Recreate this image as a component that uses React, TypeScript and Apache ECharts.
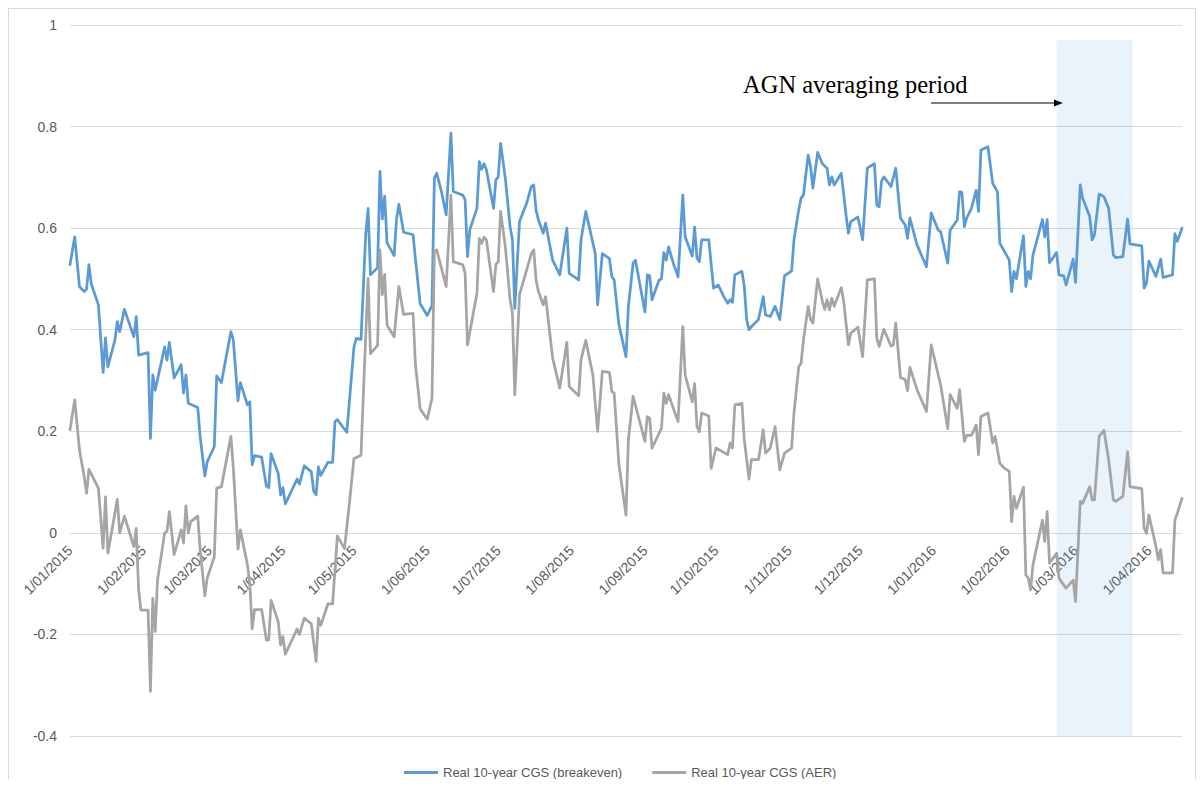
import { useEffect, useRef } from 'react';
import * as echarts from 'echarts';

// Category axis: every calendar day from 1 Jan 2015 to 15 Apr 2016
const axisStart = Date.UTC(2015, 0, 1);
const axisEnd = Date.UTC(2016, 3, 15);
const categories: string[] = [];
for (let t = axisStart; t <= axisEnd; t += 86400000) {
  const d = new Date(t);
  categories.push(`${d.getUTCDate()}/${String(d.getUTCMonth() + 1).padStart(2, '0')}/${d.getUTCFullYear()}`);
}

const seriesNames = ['Real 10-year CGS (breakeven)', 'Real 10-year CGS (AER)'];
const seriesColors = ['#5b9bd5', '#a5a5a5'];

// [days since 1 Jan 2015, value]
const breakeven: [number, number][] = [
  [0,0.528],[2,0.583],[4,0.485],[6,0.475],[7,0.48],[8,0.528],[9,0.49],[12,0.449],[14,0.316],[15,0.384],[16,0.327],
  [19,0.38],[20,0.416],[21,0.396],[23,0.44],[27,0.386],[28,0.426],[29,0.35],[33,0.355],[34,0.186],[35,0.311],[36,0.281],
  [40,0.366],[41,0.34],[42,0.375],[44,0.305],[47,0.331],[48,0.275],[49,0.311],[50,0.255],[54,0.247],[55,0.19],[57,0.112],
  [58,0.14],[61,0.17],[62,0.309],[64,0.296],[68,0.396],[69,0.381],[71,0.26],[72,0.296],[75,0.252],[76,0.258],[77,0.134],
  [78,0.152],[81,0.149],[83,0.092],[84,0.089],[85,0.156],[88,0.117],[89,0.075],[90,0.089],[91,0.057],[96,0.106],[97,0.096],
  [99,0.132],[102,0.12],[103,0.082],[104,0.075],[105,0.13],[106,0.113],[109,0.139],[111,0.139],[112,0.219],[113,0.223],
  [117,0.198],[120,0.365],[121,0.383],[123,0.381],[125,0.589],[126,0.639],[127,0.508],[130,0.522],[131,0.712],[132,0.618],
  [133,0.663],[134,0.571],[137,0.546],[138,0.617],[139,0.647],[141,0.592],[145,0.587],[146,0.539],[148,0.451],[151,0.428],
  [153,0.448],[154,0.698],[155,0.708],[157,0.672],[159,0.626],[161,0.787],[162,0.672],[166,0.665],[167,0.656],[168,0.544],
  [169,0.597],[172,0.639],[173,0.731],[174,0.716],[175,0.727],[176,0.715],[179,0.639],[180,0.695],[181,0.701],[182,0.767],
  [184,0.698],[186,0.603],[187,0.577],[188,0.442],[190,0.613],[193,0.649],[195,0.682],[196,0.685],[197,0.635],[198,0.616],
  [200,0.59],[201,0.61],[204,0.537],[207,0.508],[210,0.6],[211,0.511],[215,0.498],[216,0.577],[218,0.633],[222,0.55],
  [223,0.449],[225,0.55],[228,0.54],[229,0.505],[230,0.498],[232,0.41],[235,0.347],[236,0.445],[238,0.531],[239,0.537],
  [243,0.435],[244,0.508],[245,0.506],[246,0.459],[249,0.498],[250,0.5],[251,0.552],[252,0.537],[253,0.563],[255,0.531],
  [257,0.504],[259,0.665],[260,0.583],[263,0.545],[264,0.602],[265,0.541],[266,0.534],[267,0.577],[270,0.577],[272,0.482],
  [274,0.488],[276,0.468],[278,0.452],[279,0.459],[280,0.454],[281,0.508],[284,0.515],[285,0.485],[286,0.42],[287,0.4],
  [288,0.406],[291,0.42],[293,0.465],[294,0.429],[296,0.426],[298,0.446],[300,0.42],[302,0.506],[305,0.516],[306,0.577],
  [308,0.636],[309,0.659],[310,0.665],[312,0.744],[313,0.721],[314,0.679],[316,0.749],[318,0.727],[320,0.718],[321,0.685],
  [322,0.701],[323,0.685],[326,0.708],[328,0.626],[329,0.59],[330,0.613],[333,0.622],[335,0.577],[337,0.718],[340,0.727],
  [341,0.645],[342,0.642],[343,0.692],[344,0.701],[347,0.682],[349,0.718],[351,0.62],[353,0.606],[354,0.58],[355,0.62],
  [358,0.567],[362,0.524],[364,0.63],[367,0.596],[368,0.593],[371,0.531],[372,0.596],[375,0.616],[376,0.672],[377,0.67],
  [378,0.603],[379,0.62],[381,0.639],[383,0.675],[384,0.633],[385,0.754],[388,0.76],[390,0.688],[392,0.672],[393,0.57],
  [395,0.554],[397,0.537],[398,0.475],[399,0.515],[400,0.5],[403,0.585],[404,0.485],[405,0.515],[406,0.5],[407,0.547],
  [411,0.617],[412,0.583],[413,0.617],[414,0.532],[417,0.552],[418,0.508],[420,0.506],[421,0.488],[424,0.539],[425,0.493],
  [427,0.685],[428,0.659],[431,0.623],[432,0.577],[433,0.587],[435,0.667],[437,0.662],[439,0.639],[441,0.547],[442,0.542],
  [445,0.544],[447,0.618],[448,0.569],[453,0.565],[454,0.482],[455,0.492],[456,0.535],[459,0.505],[461,0.539],[462,0.503],
  [466,0.508],[467,0.589],[468,0.574],[470,0.6],
];

const aer: [number, number][] = [
  [0,0.203],[2,0.262],[4,0.163],[6,0.111],[7,0.078],[8,0.125],[12,0.088],[14,-0.03],[15,0.071],[16,-0.04],[20,0.066],
  [21,0.0],[23,0.033],[27,-0.027],[28,0.009],[29,-0.112],[30,-0.152],[33,-0.152],[34,-0.312],[35,-0.129],[36,-0.194],
  [37,-0.093],[40,0.0],[41,0.003],[42,0.042],[44,-0.043],[47,0.006],[48,-0.02],[49,0.053],[50,0.0],[51,0.022],[54,0.033],
  [55,-0.033],[57,-0.124],[58,-0.089],[61,-0.047],[62,0.088],[64,0.091],[68,0.19],[69,0.131],[71,-0.032],[72,0.006],
  [75,-0.063],[76,-0.1],[77,-0.189],[78,-0.151],[81,-0.151],[83,-0.211],[84,-0.211],[85,-0.133],[88,-0.175],[89,-0.221],
  [90,-0.204],[91,-0.239],[96,-0.189],[97,-0.2],[99,-0.168],[102,-0.179],[104,-0.253],[105,-0.168],[106,-0.182],[109,-0.14],
  [111,-0.14],[113,-0.006],[116,-0.031],[118,0.054],[120,0.146],[123,0.153],[124,0.275],[126,0.501],[127,0.353],[130,0.369],
  [131,0.557],[132,0.469],[133,0.509],[134,0.409],[137,0.386],[139,0.485],[141,0.43],[145,0.432],[146,0.332],[148,0.244],
  [151,0.224],[153,0.265],[154,0.554],[155,0.557],[159,0.485],[161,0.665],[162,0.534],[166,0.528],[167,0.511],[168,0.37],
  [172,0.472],[173,0.58],[174,0.57],[175,0.582],[176,0.577],[179,0.475],[180,0.528],[181,0.534],[182,0.633],[184,0.563],
  [186,0.459],[187,0.433],[188,0.272],[190,0.469],[195,0.55],[196,0.557],[197,0.498],[198,0.475],[200,0.449],[201,0.465],
  [204,0.344],[207,0.285],[210,0.375],[211,0.288],[215,0.27],[216,0.341],[218,0.379],[221,0.311],[223,0.2],[225,0.318],
  [228,0.316],[229,0.278],[230,0.275],[232,0.135],[235,0.035],[236,0.183],[238,0.269],[243,0.18],[244,0.229],[245,0.226],
  [246,0.167],[250,0.206],[251,0.275],[252,0.255],[253,0.272],[257,0.219],[259,0.406],[260,0.311],[263,0.258],[264,0.294],
  [265,0.209],[266,0.199],[267,0.236],[270,0.23],[271,0.127],[273,0.167],[278,0.154],[279,0.177],[280,0.167],[281,0.252],
  [284,0.255],[285,0.183],[287,0.106],[288,0.144],[291,0.144],[293,0.203],[294,0.157],[296,0.167],[298,0.209],[300,0.124],
  [302,0.157],[305,0.167],[306,0.236],[308,0.327],[309,0.334],[310,0.38],[312,0.446],[313,0.42],[314,0.413],[316,0.5],
  [318,0.456],[319,0.44],[320,0.459],[321,0.439],[322,0.462],[323,0.446],[326,0.483],[327,0.456],[329,0.37],[330,0.393],
  [333,0.405],[335,0.347],[337,0.498],[340,0.5],[341,0.383],[342,0.367],[344,0.401],[347,0.368],[348,0.37],[349,0.413],
  [351,0.306],[353,0.302],[354,0.28],[355,0.326],[358,0.282],[362,0.239],[364,0.37],[368,0.291],[371,0.205],[372,0.272],
  [375,0.245],[376,0.282],[378,0.18],[379,0.192],[381,0.192],[383,0.212],[384,0.154],[385,0.229],[388,0.236],[390,0.177],
  [391,0.19],[393,0.137],[395,0.127],[397,0.121],[398,0.022],[399,0.072],[400,0.048],[403,0.09],[404,-0.083],[405,-0.089],
  [406,-0.112],[407,-0.063],[411,0.025],[412,-0.017],[413,0.042],[414,-0.06],[417,-0.04],[418,-0.089],[419,-0.096],
  [421,-0.109],[424,-0.093],[425,-0.135],[427,0.062],[428,0.058],[431,0.091],[432,0.065],[433,0.065],[435,0.19],[437,0.202],
  [439,0.144],[441,0.065],[442,0.062],[445,0.072],[447,0.16],[448,0.091],[453,0.087],[454,0.009],[455,-0.001],[456,0.035],
  [459,-0.027],[460,-0.053],[461,-0.033],[462,-0.079],[466,-0.079],[467,0.025],[468,0.038],[470,0.068],
];

const averagingPeriod = ['22/02/2016', '25/03/2016'];
const averagingTop = 0.97;
const annotationText = 'AGN averaging period';
const yMin = -0.4;
const yMax = 1;
const yInterval = 0.2;

const labelColor = '#595959';
const gridColor = '#d9d9d9';
const fontFamily = '"Liberation Sans", Arial, sans-serif';

// plot-area geometry (px within the chart element)
const gridTop = 16;
const gridBottom = 43;
const chartHeight = 770;

export default function App() {
  const ref = useRef<HTMLDivElement>(null);
  useEffect(() => {
    const chart = echarts.init(ref.current!, null, { renderer: 'svg' });
    const plotHeight = chartHeight - gridTop - gridBottom;
    // lift the category axis from the bottom edge up to the value 0
    const zeroOffset = -plotHeight * (0 - yMin) / (yMax - yMin);
    const option: any = {
      animation: false,
      textStyle: { fontFamily },
      grid: {
        left: 61, right: 13, top: gridTop, bottom: gridBottom,
        containLabel: false, outerBoundsMode: 'none',
      },
      legend: {
        left: 390,
        top: 752,
        icon: 'rect',
        itemWidth: 34,
        itemHeight: 3,
        itemGap: 30,
        textStyle: { color: labelColor, fontSize: 13, fontFamily },
        data: seriesNames,
      },
      xAxis: {
        type: 'category',
        data: categories,
        boundaryGap: false,
        position: 'bottom',
        offset: zeroOffset,
        axisLine: { show: false, onZero: false },
        axisTick: { show: false },
        splitLine: { show: false },
        axisLabel: {
          interval: (_i: number, v: string) => v.startsWith('1/'),
          rotate: 45,
          margin: 15,
          color: labelColor,
          fontSize: 14,
          fontFamily,
        },
      },
      yAxis: {
        type: 'value',
        min: yMin,
        max: yMax,
        interval: yInterval,
        axisLine: { show: false },
        axisTick: { show: false },
        splitLine: { lineStyle: { color: gridColor, width: 1 } },
        axisLabel: { color: labelColor, fontSize: 14, margin: 13, fontFamily },
      },
      series: [
        {
          name: seriesNames[0],
          type: 'line',
          data: breakeven,
          symbol: 'none',
          showSymbol: false,
          color: seriesColors[0],
          lineStyle: { color: seriesColors[0], width: 2.75, join: 'round', cap: 'round' },
          z: 3,
          markArea: {
            silent: true,
            itemStyle: { color: 'rgba(91,155,213,0.13)' },
            data: [[
              { xAxis: averagingPeriod[0], yAxis: yMin },
              { xAxis: averagingPeriod[1], yAxis: averagingTop },
            ]],
          },
        },
        {
          name: seriesNames[1],
          type: 'line',
          data: aer,
          symbol: 'none',
          showSymbol: false,
          color: seriesColors[1],
          lineStyle: { color: seriesColors[1], width: 2.75, join: 'round', cap: 'round' },
          z: 4,
        },
      ],
      graphic: [
        {
          type: 'text',
          left: 734,
          top: 63,
          style: {
            text: annotationText,
            font: '24.5px "Liberation Serif", "Times New Roman", serif',
            fill: '#000',
          },
        },
        {
          type: 'line',
          shape: { x1: 922, y1: 94, x2: 1046, y2: 94 },
          style: { stroke: '#000', lineWidth: 1 },
        },
        {
          type: 'polygon',
          shape: { points: [[1054, 94], [1045, 90.5], [1045, 97.5]] },
          style: { fill: '#000' },
        },
      ],
    };
    chart.setOption(option);
    return () => chart.dispose();
  }, []);
  return (
    <div
      style={{
        width: 1188,
        height: 771,
        boxSizing: 'border-box',
        borderTop: '1px solid #d9d9d9',
        borderLeft: '1px solid #d9d9d9',
        borderRight: '1px solid #d9d9d9',
      }}
    >
      <div ref={ref} style={{ width: 1186, height: chartHeight }} />
    </div>
  );
}
